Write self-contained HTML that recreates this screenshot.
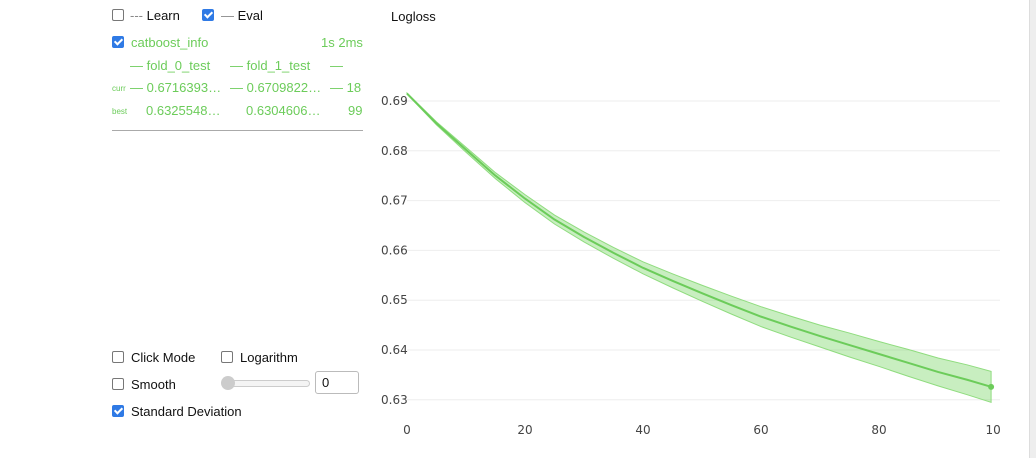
<!DOCTYPE html>
<html><head><meta charset="utf-8"><style>
body{margin:0;width:1036px;height:458px;background:#fff;font-family:"Liberation Sans",Arial,sans-serif;position:relative;overflow:hidden}
.a{position:absolute;white-space:nowrap}
.cb{position:absolute;width:10px;height:10px;border:1px solid #777;border-radius:2px;background:#fff}
.cb.on{background:#2f7ae5;border-color:#2f7ae5}
.cb.on::after{content:"";position:absolute;left:3px;top:0px;width:3px;height:6px;border:solid #fff;border-width:0 2px 2px 0;transform:rotate(45deg)}
.g{color:#6ccc5a;font-size:13px}
.t{font-size:13px;color:#111}
</style></head><body>
<div class="a" style="left:1029px;top:0;width:7px;height:458px;background:#eee;border-left:1px solid #ddd"></div>
<div class="cb" style="left:112px;top:9px"></div>
<div class="a t" style="left:130px;top:8px"><span style="color:#888">---</span> Learn</div>
<div class="cb on" style="left:202px;top:9px"></div>
<div class="a t" style="left:221px;top:8px"><span style="color:#888">—</span> Eval</div>
<div class="cb on" style="left:112px;top:36px"></div>
<div class="a g" style="left:131px;top:35px">catboost_info</div>
<div class="a g" style="left:321px;top:35px">1s 2ms</div>
<div class="a g" style="left:130px;top:58px">— fold_0_test</div>
<div class="a g" style="left:230px;top:58px">— fold_1_test</div>
<div class="a g" style="left:330px;top:58px">—</div>
<div class="a g" style="left:112px;top:84px;font-size:8px">curr</div>
<div class="a g" style="left:130px;top:80px">— 0.6716393…</div>
<div class="a g" style="left:230px;top:80px">— 0.6709822…</div>
<div class="a g" style="left:330px;top:80px">— 18</div>
<div class="a g" style="left:112px;top:107px;font-size:8px">best</div>
<div class="a g" style="left:146px;top:103px">0.6325548…</div>
<div class="a g" style="left:246px;top:103px">0.6304606…</div>
<div class="a g" style="left:348px;top:103px">99</div>
<div class="a" style="left:112px;top:130px;width:251px;height:1px;background:#aaa"></div>
<div class="cb" style="left:112px;top:351px"></div>
<div class="a t" style="left:131px;top:350px">Click Mode</div>
<div class="cb" style="left:221px;top:351px"></div>
<div class="a t" style="left:240px;top:350px">Logarithm</div>
<div class="cb" style="left:112px;top:378px"></div>
<div class="a t" style="left:131px;top:377px">Smooth</div>
<div class="a" style="left:222px;top:380px;width:86px;height:5px;border:1px solid #ccc;border-radius:4px;background:#f4f4f4"></div>
<div class="a" style="left:221px;top:376px;width:14px;height:14px;border-radius:50%;background:#ccc"></div>
<div class="a t" style="left:315px;top:371px;width:36px;height:18px;border:1px solid #bbb;border-radius:3px;padding:3px 0 0 6px">0</div>
<div class="cb on" style="left:112px;top:405px"></div>
<div class="a t" style="left:131px;top:404px">Standard Deviation</div>
<div class="a t" style="left:391px;top:9px">Logloss</div>
<svg id="chart" style="position:absolute;left:0;top:0" width="1001" height="458"></svg>
<script>
const iters=[0,5,10,15,20,25,30,35,40,45,50,55,60,65,70,75,80,85,90,95,99];
const meanVals=[0.6915,0.6855,0.6802,0.6750,0.6704,0.6662,0.6627,0.6595,0.6565,0.6539,0.6514,0.6490,0.6467,0.6447,0.6428,0.6410,0.6392,0.6374,0.6356,0.6340,0.6326];
const stdVals=[0.0001,0.0003,0.0005,0.0006,0.0008,0.0009,0.0010,0.0011,0.0012,0.0014,0.0016,0.0018,0.0020,0.0021,0.0022,0.0024,0.0025,0.0027,0.0028,0.0030,0.0031];
const yTicks=[0.63,0.64,0.65,0.66,0.67,0.68,0.69];
const xTicks=[0,20,40,60,80,100];
const svg=document.getElementById('chart');const NS='http://www.w3.org/2000/svg';
const X=v=>407+(v-0)*5.9, Y=v=>101+(0.69-v)*4980;
function mk(t,a){const e=document.createElementNS(NS,t);for(const k in a)e.setAttribute(k,a[k]);svg.appendChild(e);return e;}
yTicks.forEach(v=>{const g=mk('line',{x1:407,x2:1000,y1:Y(v),y2:Y(v),stroke:'#eee'});

const t=mk('text',{x:381,y:Y(v)+4,'font-size':12,fill:'#444','font-family':'DejaVu Sans, sans-serif'});t.textContent=v.toFixed(2);
});
xTicks.forEach(v=>{const t=mk('text',{x:X(v),y:434,'font-size':12,fill:'#444','text-anchor':'middle','font-family':'DejaVu Sans, sans-serif'});t.textContent=v;
});
let up=iters.map((v,i)=>X(v)+','+Y(meanVals[i]+stdVals[i]));
let dn=iters.map((v,i)=>X(v)+','+Y(meanVals[i]-stdVals[i])).reverse();
const band=mk('polygon',{points:up.concat(dn).join(' '),fill:'rgba(110,210,90,0.38)',stroke:'#8fdc7e','stroke-width':1});

const ln=mk('polyline',{points:iters.map((v,i)=>X(v)+','+Y(meanVals[i])).join(' '),fill:'none',stroke:'#6ccc5a','stroke-width':2,'stroke-linejoin':'round'});

const n=iters.length-1;
const d=mk('circle',{cx:X(iters[n]),cy:Y(meanVals[n]),r:3,fill:'#6ccc5a'});

</script>
</body></html>
